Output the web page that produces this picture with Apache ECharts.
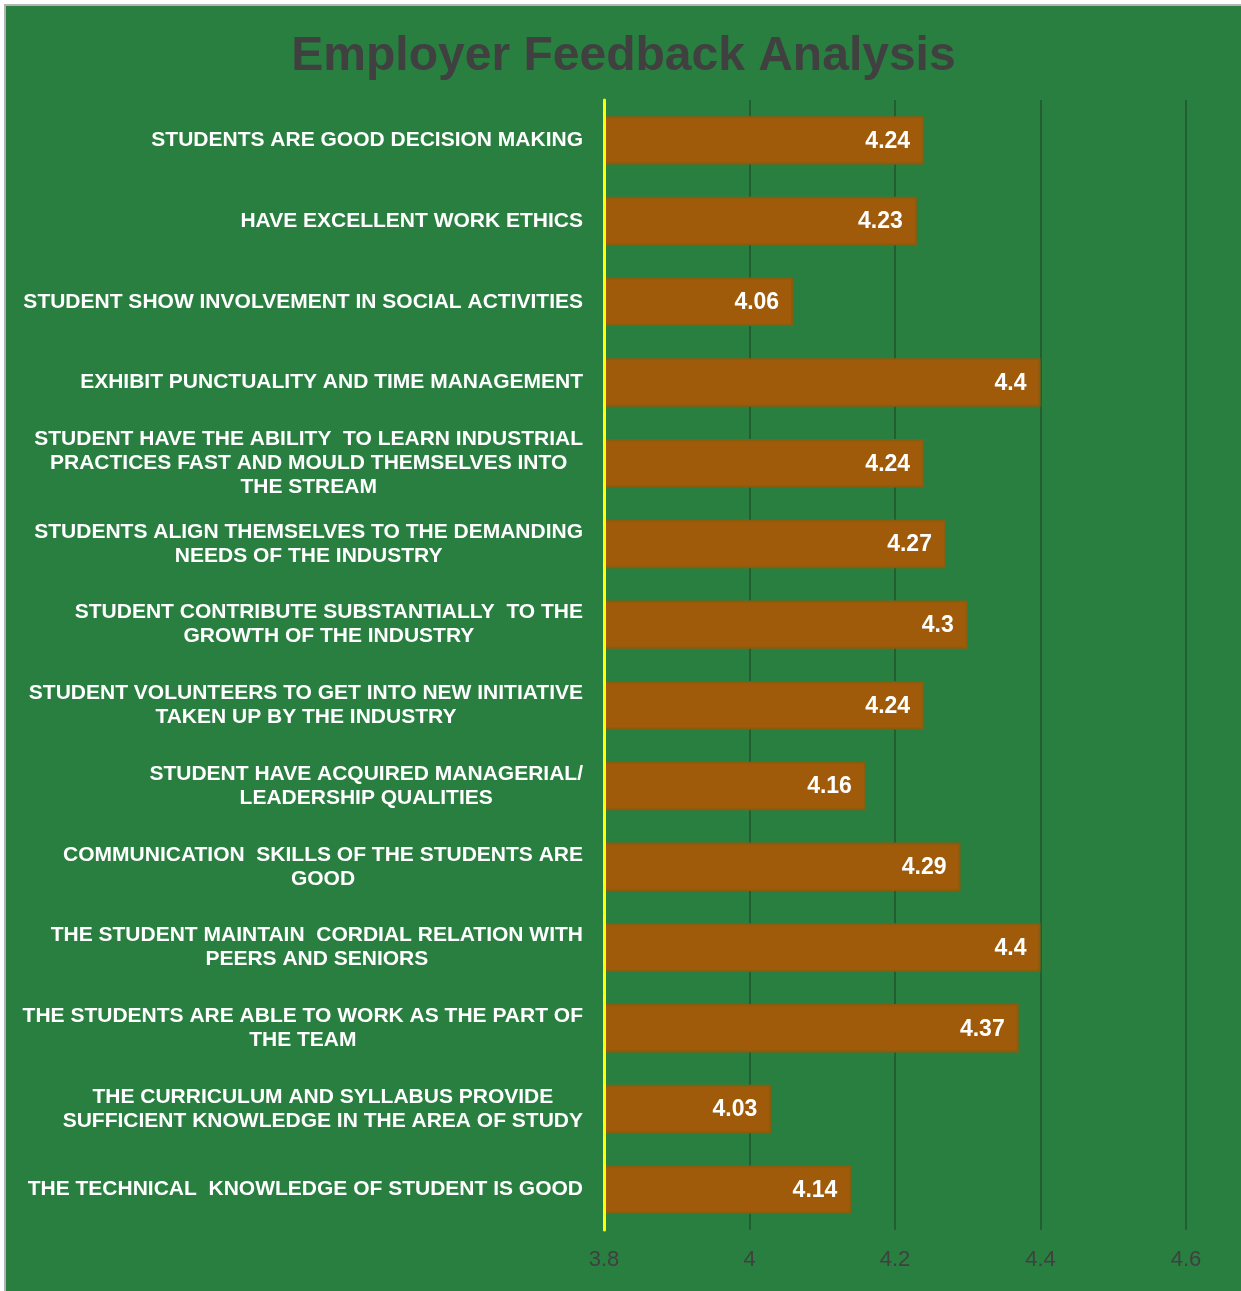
<!DOCTYPE html>
<html>
<head>
<meta charset="utf-8">
<script src="https://cdn.jsdelivr.net/npm/echarts@6/dist/echarts.min.js"></script>
<style>
	html, body { margin: 0; padding: 0; background: #ffffff; }
	#frame {
		position: absolute; left: 4px; top: 4px; width: 1235px; height: 1285px;
		border-left: 2px solid #b4b4b4; border-top: 2px solid #b4b4b4;
		background: #287f40;
	}
	#main { width: 1235px; height: 1285px; }
</style>
</head>
<body>
<div id="frame"><div id="main"></div></div>
<script>
// categories, top to bottom as in the picture
let categories = [
	'STUDENTS ARE GOOD DECISION MAKING',
	'HAVE EXCELLENT WORK ETHICS',
	'STUDENT SHOW INVOLVEMENT IN SOCIAL ACTIVITIES',
	'EXHIBIT PUNCTUALITY AND TIME MANAGEMENT',
	'STUDENT HAVE THE ABILITY  TO LEARN INDUSTRIAL\nPRACTICES FAST AND MOULD THEMSELVES INTO\nTHE STREAM',
	'STUDENTS ALIGN THEMSELVES TO THE DEMANDING\nNEEDS OF THE INDUSTRY',
	'STUDENT CONTRIBUTE SUBSTANTIALLY  TO THE\nGROWTH OF THE INDUSTRY',
	'STUDENT VOLUNTEERS TO GET INTO NEW INITIATIVE\nTAKEN UP BY THE INDUSTRY',
	'STUDENT HAVE ACQUIRED MANAGERIAL/\nLEADERSHIP QUALITIES',
	'COMMUNICATION  SKILLS OF THE STUDENTS ARE\nGOOD',
	'THE STUDENT MAINTAIN  CORDIAL RELATION WITH\nPEERS AND SENIORS',
	'THE STUDENTS ARE ABLE TO WORK AS THE PART OF\nTHE TEAM',
	'THE CURRICULUM AND SYLLABUS PROVIDE\nSUFFICIENT KNOWLEDGE IN THE AREA OF STUDY',
	'THE TECHNICAL  KNOWLEDGE OF STUDENT IS GOOD'
];
let scores = [4.24, 4.23, 4.06, 4.4, 4.24, 4.27, 4.3, 4.24, 4.16, 4.29, 4.4, 4.37, 4.03, 4.14];
let xMin = 3.8;
let xMax = 4.6;
let xStep = 0.2;

let myChart = echarts.init(document.getElementById('main'));

let option = {
	backgroundColor: 'transparent',
	title: {
		text: 'Employer Feedback Analysis',
		left: 'center',
		top: 22,
		textStyle: {
			color: '#404040',
			fontSize: 48,
			fontWeight: 'bold',
			fontFamily: 'Liberation Sans'
		}
	},
	grid: {
		left: 598,
		right: 55,
		top: 94,
		bottom: 61,
		containLabel: false
	},
	xAxis: {
		type: 'value',
		min: xMin,
		max: xMax,
		interval: xStep,
		axisLine: { show: false },
		axisTick: { show: false },
		splitLine: {
			show: true,
			lineStyle: { color: '#215f33', width: 2 }
		},
		axisLabel: {
			color: '#404040',
			fontSize: 22,
			fontFamily: 'Liberation Sans',
			margin: 19
		}
	},
	yAxis: {
		type: 'category',
		inverse: true,
		z: 5,
		data: categories,
		axisLine: {
			show: true,
			lineStyle: { color: '#ffff00', width: 3 }
		},
		axisTick: { show: false },
		axisLabel: {
			align: 'right',
			margin: 21,
			formatter: function (value) {
				return value.split('\n').map(function (line) {
					return '{c|' + line + '}';
				}).join('\n');
			},
			rich: {
				c: {
					align: 'center',
					color: '#ffffff',
					fontSize: 21,
					fontWeight: 'bold',
					fontFamily: 'Liberation Sans',
					lineHeight: 24
				}
			}
		}
	},
	series: [{
		type: 'bar',
		data: scores,
		barWidth: '60%',
		itemStyle: {
			color: 'rgba(166,89,8,0.96)',
			borderColor: '#8a5c0e',
			borderWidth: 2
		},
		label: {
			show: true,
			position: 'insideRight',
			distance: 14,
			offset: [0, 1],
			color: '#ffffff',
			fontSize: 23,
			fontWeight: 'bold',
			fontFamily: 'Liberation Sans'
		}
	}]
};
myChart.setOption(option);
</script>
</body>
</html>
